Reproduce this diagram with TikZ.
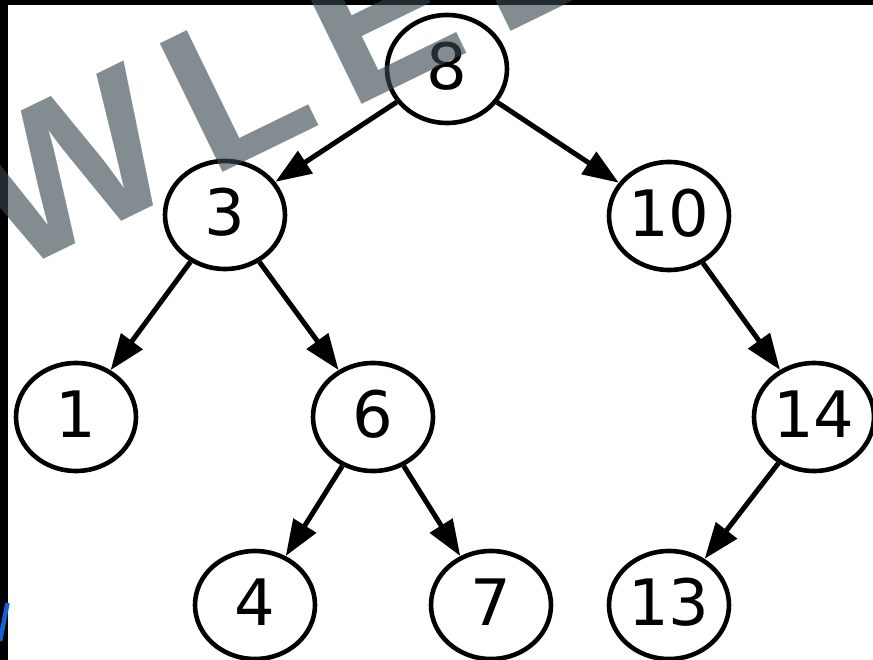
\documentclass[tikz,border=0pt]{standalone}
\usepackage{fontspec}
\setmainfont{DejaVu Sans}
\newfontfamily\wmfont[LetterSpace=13]{Liberation Sans}
\usetikzlibrary{arrows.meta,shapes.geometric}

\definecolor{wmgray}{RGB}{55,70,77}
\definecolor{edgeblue}{RGB}{18,98,210}

\tikzset{
  bstnode/.style={ellipse, draw, line width=4.6pt, fill=white,
    minimum width=120pt, minimum height=108pt, inner sep=0pt,
    text depth=6pt, font=\fontsize{64}{77}\selectfont},
  bstedge/.style={line width=5pt, -{Triangle[length=36pt,width=26pt]}},
  wmtext/.style={inner sep=0pt, text=wmgray, text opacity=0.62,
    font=\wmfont\fontsize{208}{240}\selectfont\bfseries},
}

\begin{document}
\begin{tikzpicture}[x=1pt, y=-1pt, line cap=butt, line join=miter]

  %% ════ 底色与边框 ════
  \fill[white] (0,0) rectangle (873,660);
  \fill[black] (0,0) rectangle (873,5);
  \fill[black] (0,0) rectangle (8,660);
  \draw[edgeblue, line width=4.5pt] (7.5,603) -- (0,641);

  %% ════ 结点 ════
  \node[bstnode] (n8)  at (447,69)  {8};
  \node[bstnode] (n3)  at (225,215) {3};
  \node[bstnode] (n10) at (669,216) {10};
  \node[bstnode] (n1)  at (76,417)  {1};
  \node[bstnode] (n6)  at (373,417) {6};
  \node[bstnode] (n14) at (814,417) {14};
  \node[bstnode] (n4)  at (255,605) {4};
  \node[bstnode] (n7)  at (491,605) {7};
  \node[bstnode] (n13) at (669,605) {13};

  %% ════ 边 ════
  \draw[bstedge] (n8) -- (n3);
  \draw[bstedge] (n8) -- (n10);
  \draw[bstedge] (n3) -- (n1);
  \draw[bstedge] (n3) -- (n6);
  \draw[bstedge] (n6) -- (n4);
  \draw[bstedge] (n6) -- (n7);
  \draw[bstedge] (n10) -- (n14);
  \draw[bstedge] (n14) -- (n13);

  %% ════ 水印（半透明，压在最上层）════
  \node[wmtext, rotate=26, anchor=base west] (wm) at (10,276) {WLED};

  % 钉死画布
  \pgfresetboundingbox
  \path[use as bounding box] (0,0) rectangle (873,660);
\end{tikzpicture}
\end{document}
